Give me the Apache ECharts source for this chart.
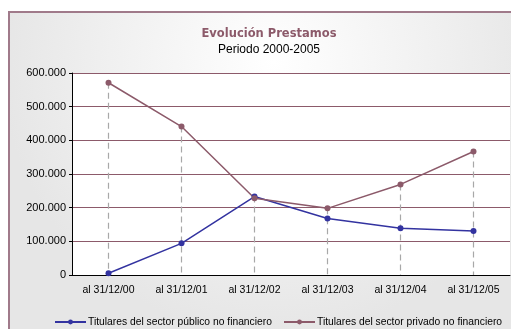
<!DOCTYPE html>
<html>
<head>
<meta charset="utf-8">
<script src="https://cdn.jsdelivr.net/npm/echarts@6/dist/echarts.min.js"></script>
<style>
  html, body { margin: 0; padding: 0; background: #fff; }
  #chart { width: 511px; height: 329px; }
</style>
</head>
<body>
<div id="chart"></div>
<script>
  // datos
  var categorias = ['al 31/12/00', 'al 31/12/01', 'al 31/12/02', 'al 31/12/03', 'al 31/12/04', 'al 31/12/05'];
  var sectorPublico = [5000, 94000, 233000, 168000, 139000, 131000];
  var sectorPrivado = [571000, 441000, 228000, 198000, 269000, 367000];
  var nombres = ['Titulares del sector público no financiero', 'Titulares del sector privado no financiero'];

  // lineas verticales punteadas desde el punto mas alto hasta el eje
  var lineasCaida = [];
  for (var i = 0; i < categorias.length; i++) {
    var tope = Math.max(sectorPublico[i], sectorPrivado[i]);
    lineasCaida.push([{ coord: [i, tope] }, { coord: [i, 0] }]);
  }

  var estiloLeyenda = {
    top: 317,
    padding: 0,
    itemWidth: 31,
    itemHeight: 6,
    width: 400,
    textStyle: { color: '#000', fontSize: 10.3, padding: [0, 0, 0, -3] }
  };

  var myChart = echarts.init(document.getElementById('chart'));
  var option = {
    animation: false,
    textStyle: { fontFamily: 'Liberation Sans, Arial, sans-serif' },
    graphic: [{
      type: 'rect',
      z: -10,
      shape: { x: 9, y: 12, width: 530, height: 340 },
      style: {
        fill: new echarts.graphic.RadialGradient(0.5, 0.15, 0.8, [
          { offset: 0, color: '#ffffff' },
          { offset: 1, color: '#e6e6e6' }
        ]),
        stroke: '#a07a8a',
        lineWidth: 2
      }
    }],
    title: {
      text: 'Evolución Prestamos',
      subtext: 'Periodo 2000-2005',
      left: 264,
      textAlign: 'center',
      top: 23,
      itemGap: 4,
      textStyle: {
        color: '#8c5a6a',
        fontSize: 11.5,
        fontWeight: 'bold',
        fontFamily: 'DejaVu Sans, sans-serif'
      },
      subtextStyle: {
        color: '#000',
        fontSize: 12,
        fontFamily: 'Liberation Sans, Arial, sans-serif'
      }
    },
    legend: [
      Object.assign({ left: 54, data: [nombres[0]] }, estiloLeyenda),
      Object.assign({ left: 283, data: [nombres[1]] }, estiloLeyenda)
    ],
    grid: {
      left: 72,
      right: 1,
      top: 73,
      bottom: 54,
      show: true,
      backgroundColor: '#ffffff',
      borderWidth: 0
    },
    xAxis: {
      type: 'category',
      data: categorias,
      boundaryGap: true,
      axisLine: { lineStyle: { color: '#000', width: 1 } },
      axisTick: { inside: true, length: 4, lineStyle: { color: '#000' } },
      axisLabel: { color: '#000', fontSize: 10.5, margin: 10 },
      splitLine: { show: false }
    },
    yAxis: {
      type: 'value',
      min: 0,
      max: 600000,
      interval: 100000,
      axisLine: { show: true, lineStyle: { color: '#000', width: 1 } },
      axisTick: { show: true, length: 3, lineStyle: { color: '#000' } },
      axisLabel: {
        color: '#000',
        fontSize: 11,
        margin: 6,
        formatter: function (v) {
          return v === 0 ? '0' : String(v).replace(/\B(?=(\d{3})+(?!\d))/g, '.');
        }
      },
      splitLine: { lineStyle: { color: '#8c5a6a', width: 1 } }
    },
    series: [{
      name: nombres[0],
      type: 'line',
      data: sectorPublico,
      symbol: 'circle',
      symbolSize: 6,
      color: '#3333a0',
      lineStyle: { width: 1.5, color: '#3333a0' },
      itemStyle: { color: '#3333a0' },
      z: 3
    }, {
      name: nombres[1],
      type: 'line',
      data: sectorPrivado,
      symbol: 'circle',
      symbolSize: 6,
      color: '#8c5a6a',
      lineStyle: { width: 1.5, color: '#8c5a6a' },
      itemStyle: { color: '#8c5a6a' },
      z: 3,
      markLine: {
        silent: true,
        symbol: ['none', 'none'],
        label: { show: false },
        lineStyle: { color: '#a8a8a8', type: [6, 4], width: 1.2 },
        z: 1,
        data: lineasCaida
      }
    }]
  };
  myChart.setOption(option);
</script>
</body>
</html>
